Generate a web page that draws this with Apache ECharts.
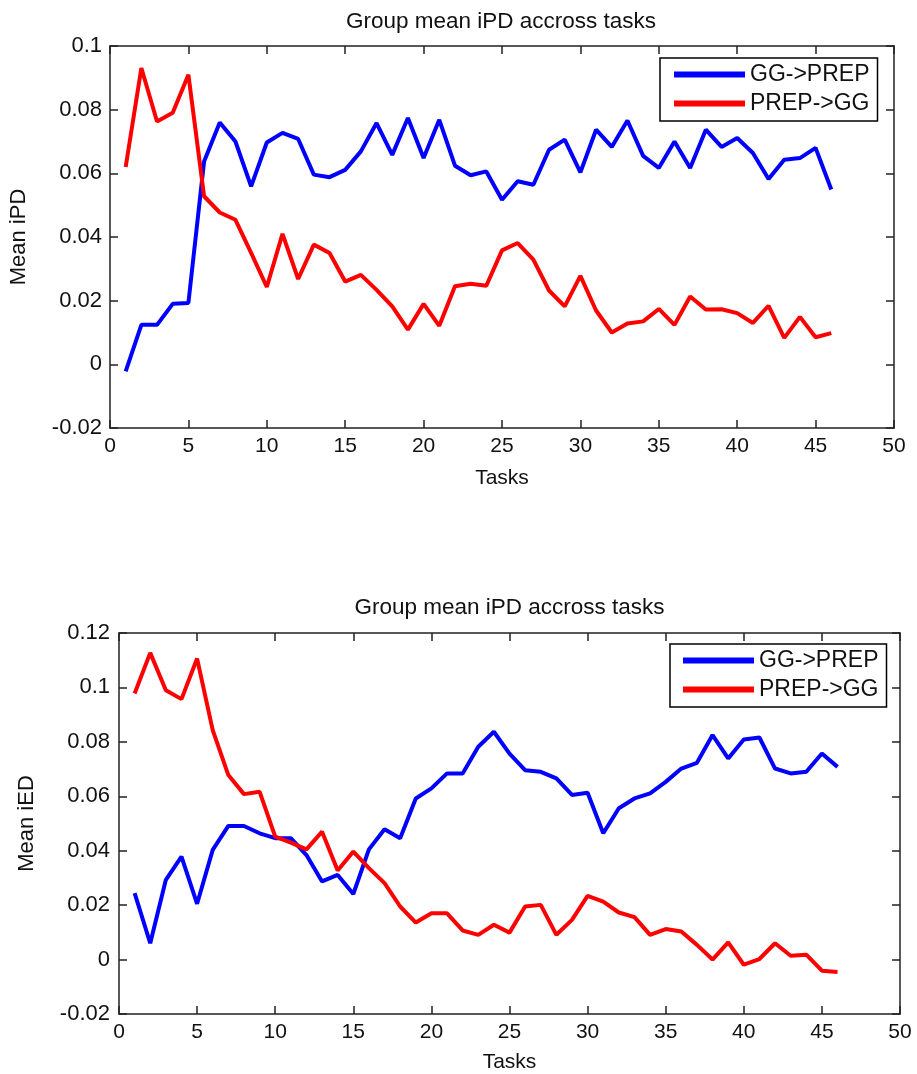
<!DOCTYPE html>
<html>
<head>
<meta charset="utf-8">
<script src="https://cdn.jsdelivr.net/npm/echarts@6/dist/echarts.min.js"></script>
<style>html,body{margin:0;padding:0;background:#fff;}#c{width:917px;height:1074px;}</style>
</head>
<body>
<div id="c"></div>
<script>
var tasks = [1,2,3,4,5,6,7,8,9,10,11,12,13,14,15,16,17,18,19,20,21,22,23,24,25,26,27,28,29,30,31,32,33,34,35,36,37,38,39,40,41,42,43,44,45,46];
var seriesNames = ['GG->PREP', 'PREP->GG'];
var titles = ['Group mean iPD accross tasks', 'Group mean iPD accross tasks'];
var yNames = ['Mean iPD', 'Mean iED'];
var xName = 'Tasks';
var yRanges = [[-0.02, 0.1], [-0.02, 0.12]];
var xRange = [0, 50];

var ipdGGtoPREP = [-0.0022,0.0124,0.0124,0.0190,0.0193,0.0637,0.0760,0.0700,0.0559,0.0697,
  0.0727,0.0708,0.0596,0.0588,0.0611,0.0669,0.0758,0.0658,0.0774,0.0648,
  0.0768,0.0624,0.0594,0.0606,0.0517,0.0575,0.0564,0.0674,0.0706,0.0603,
  0.0737,0.0683,0.0766,0.0655,0.0617,0.0700,0.0617,0.0737,0.0683,0.0711,
  0.0664,0.0582,0.0643,0.0648,0.0680,0.0549];
var ipdPREPtoGG = [0.0620,0.0931,0.0763,0.0790,0.0910,0.0528,0.0477,0.0454,0.0350,0.0243,
  0.0410,0.0268,0.0376,0.0350,0.0260,0.0281,0.0234,0.0182,0.0109,0.0190,
  0.0121,0.0245,0.0253,0.0247,0.0358,0.0381,0.0329,0.0232,0.0182,0.0278,
  0.0169,0.0100,0.0128,0.0135,0.0174,0.0124,0.0213,0.0172,0.0173,0.0161,
  0.0130,0.0184,0.0083,0.0149,0.0085,0.0098];
var iedGGtoPREP = [0.0244,0.0060,0.0293,0.0378,0.0205,0.0403,0.0491,0.0491,0.0464,0.0446,
  0.0446,0.0384,0.0287,0.0311,0.0241,0.0405,0.0479,0.0446,0.0592,0.0629,
  0.0684,0.0684,0.0782,0.0837,0.0757,0.0696,0.0690,0.0666,0.0605,0.0613,
  0.0464,0.0556,0.0592,0.0611,0.0653,0.0702,0.0723,0.0825,0.0739,0.0809,
  0.0816,0.0702,0.0684,0.0690,0.0757,0.0708];
var iedPREPtoGG = [0.0978,0.1127,0.0990,0.0957,0.1106,0.0843,0.0678,0.0608,0.0617,0.0452,
  0.0430,0.0405,0.0470,0.0327,0.0397,0.0336,0.0281,0.0195,0.0136,0.0170,
  0.0170,0.0107,0.0091,0.0128,0.0099,0.0195,0.0201,0.0091,0.0146,0.0234,
  0.0213,0.0173,0.0156,0.0091,0.0112,0.0103,0.0054,0.0000,0.0063,-0.0019,
  0.0002,0.0060,0.0014,0.0018,-0.0041,-0.0046];

var FONT = '"Liberation Sans", Arial, sans-serif';
var TXT = '#111';
var AX = '#222';

function pairs(vals){ return tasks.map(function(t,i){ return [t, vals[i]]; }); }

var grids = [
  {left:108, top:46, width:786, height:382},
  {left:119, top:633, width:781, height:381}
];
var titleCenters = [[501, 10], [509.5, 596]];
var legendPos = [[660, 58], [670, 644]];
var legendPads = [[5,8,6,14], [5,8,6,13]];
var xNameGaps = [40, 38];
var yNameGaps = [80, 81];
var yLabelMargins = [8, 9];

var xAxes = [], yAxes = [], titleOpts = [], legends = [], series = [];
for (var g = 0; g < 2; g++) {
  var lineStyle = {color: AX, width: 1.5};
  xAxes.push({type:'value', gridIndex:g, position:'bottom', min:xRange[0], max:xRange[1], interval:5,
    name:xName, nameLocation:'middle', nameGap:xNameGaps[g],
    nameTextStyle:{fontFamily:FONT, fontSize:21, color:TXT},
    axisLine:{show:true, onZero:false, lineStyle:lineStyle},
    axisTick:{show:true, inside:true, length:8, lineStyle:lineStyle},
    axisLabel:{fontFamily:FONT, fontSize:21, color:TXT, margin:8},
    splitLine:{show:false}});
  xAxes.push({type:'value', gridIndex:g, position:'top', min:xRange[0], max:xRange[1], interval:5,
    axisLine:{show:true, onZero:false, lineStyle:lineStyle},
    axisTick:{show:true, inside:true, length:8, lineStyle:lineStyle},
    axisLabel:{show:false}, splitLine:{show:false}});
  yAxes.push({type:'value', gridIndex:g, position:'left', min:yRanges[g][0], max:yRanges[g][1], interval:0.02,
    name:yNames[g], nameLocation:'middle', nameGap:yNameGaps[g], nameRotate:90,
    nameTextStyle:{fontFamily:FONT, fontSize:22, color:TXT},
    axisLine:{show:true, onZero:false, lineStyle:lineStyle},
    axisTick:{show:true, inside:true, length:8, lineStyle:lineStyle},
    axisLabel:{fontFamily:FONT, fontSize:22, color:TXT, margin:yLabelMargins[g]},
    splitLine:{show:false}});
  yAxes.push({type:'value', gridIndex:g, position:'right', min:yRanges[g][0], max:yRanges[g][1], interval:0.02,
    axisLine:{show:true, onZero:false, lineStyle:lineStyle},
    axisTick:{show:true, inside:true, length:8, lineStyle:lineStyle},
    axisLabel:{show:false}, splitLine:{show:false}});
  titleOpts.push({text:titles[g], left:titleCenters[g][0], top:titleCenters[g][1], textAlign:'center', padding:0,
    textStyle:{fontFamily:FONT, fontSize:22.5, fontWeight:'normal', color:TXT}});
  legends.push({orient:'vertical', left:legendPos[g][0], top:legendPos[g][1], data:seriesNames,
    icon:'rect', itemWidth:71, itemHeight:6, itemGap:6, itemTextGap:7,
    padding:legendPads[g], backgroundColor:'#fff', borderColor:'#000', borderWidth:1.5, borderRadius:0,
    selectedMode:false,
    textStyle:{fontFamily:FONT, fontSize:23, color:TXT, lineHeight:23}});
}

var dataSets = [[ipdGGtoPREP, ipdPREPtoGG], [iedGGtoPREP, iedPREPtoGG]];
var colors = ['#0000ff', '#ff0000'];
for (var g2 = 0; g2 < 2; g2++) {
  for (var s = 0; s < 2; s++) {
    series.push({type:'line', name:seriesNames[s], xAxisIndex:g2*2, yAxisIndex:g2*2,
      data:pairs(dataSets[g2][s]), showSymbol:false, symbol:'none', animation:false,
      color:colors[s], lineStyle:{color:colors[s], width:4}, itemStyle:{color:colors[s]}});
  }
}

var chart = echarts.init(document.getElementById('c'), null, {renderer:'canvas'});
chart.setOption({
  backgroundColor:'#fff', animation:false,
  title:titleOpts, legend:legends, grid:grids, xAxis:xAxes, yAxis:yAxes, series:series
});
</script>
</body>
</html>
